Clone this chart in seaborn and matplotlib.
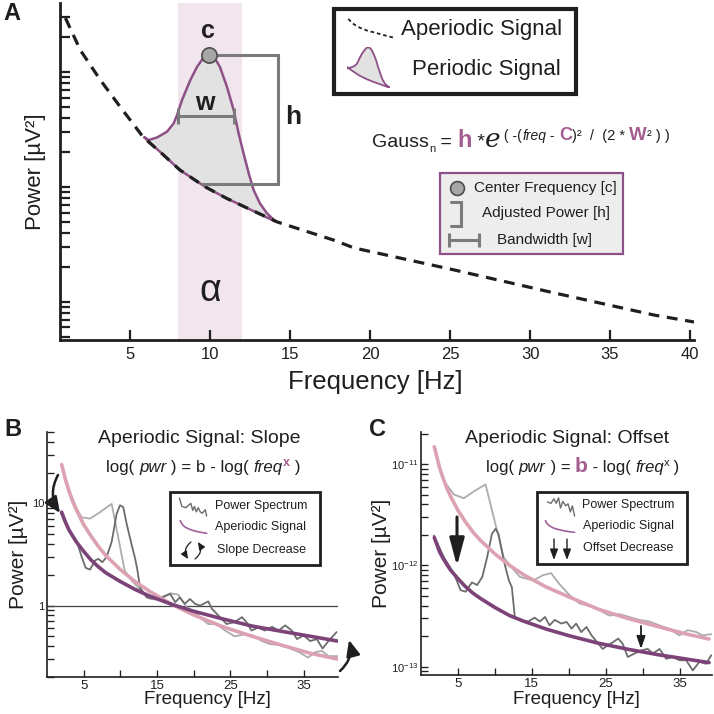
import matplotlib
matplotlib.use("Agg")
import matplotlib.pyplot as plt
from matplotlib.patches import Rectangle, FancyArrowPatch
from matplotlib.lines import Line2D
from matplotlib.ticker import FixedLocator, NullFormatter
import numpy as np
import seaborn as sns

sns.set_style("ticks")
plt.rcParams['font.family'] = ['Liberation Sans', 'DejaVu Sans']
plt.rcParams['mathtext.fontset'] = 'custom'
plt.rcParams['mathtext.rm'] = 'Liberation Sans'

# ---------------- data ----------------
# Panel A: aperiodic 1/f component (dashed)
ap_freq = [0.94, 1.875, 3.125, 4.375, 5.8, 7.0, 8.1, 9.7, 11.0, 12.3, 14.2,
           17.7, 19.0, 25.25, 31.5, 37.75, 40.25]
ap_power = [295, 155, 85.2, 49.6, 27.2, 19.4, 14.06, 10.0, 8.0, 6.57, 4.96,
            3.46, 2.95, 1.90, 1.20, 0.77, 0.67]

# Panel A: periodic (alpha) peak riding on the aperiodic component
peak_freq = [5.83, 6.14, 6.67, 7.29, 7.71, 7.92, 8.23, 8.75, 9.17, 9.58, 9.9,
             10.3, 10.6, 11.04, 11.46, 11.77, 12.08, 12.4, 12.71, 13.1, 13.54, 14.1]
peak_power = [27.4, 25.6, 27.0, 30.3, 35.8, 42.3, 57.1, 85.2, 111, 134, 141,
              131, 111, 74.5, 46.7, 29.3, 19.6, 13.2, 9.42, 7.22, 5.91, 4.99]

alpha_band = (8, 12)
bw_edges = (8.0, 11.5)      # bandwidth bracket [w]
bw_level = 41.4
h_bracket_freq = 14.25      # adjusted power bracket [h]
h_base_freq = 9.5
h_base_power = 10.6

# Panel B: slope change
b_fit_freq = [2, 2.5, 3, 3.5, 4, 5, 6, 7, 8, 10, 12, 14, 17, 20, 24, 28, 32, 36, 39.6]
b_fit_steep = [24, 17.3, 13.2, 10.5, 8.7, 6.2, 4.8, 3.8, 3.1, 2.25, 1.72, 1.38,
               1.03, 0.81, 0.62, 0.50, 0.41, 0.34, 0.30]
b_fit_flat = [8.2, 6.6, 5.5, 4.8, 4.2, 3.4, 2.8, 2.4, 2.1, 1.72, 1.44, 1.24,
              1.03, 0.88, 0.74, 0.63, 0.56, 0.50, 0.45]
b_spec1_freq = [2.0, 2.7, 3.4, 4.05, 4.73, 5.87, 7.23, 8.82, 10.6, 11.55, 12.46,
                14.05, 15.4, 16.8, 17.9, 19.1, 20.2, 21.1, 22.0, 23.1, 24.3, 25.6,
                26.8, 28.1, 29.3, 30.4, 31.8, 33.2, 34.4, 35.6, 36.6, 37.5, 38.4, 39.7]
b_spec1_power = [24, 16, 11.5, 8.9, 7.3, 7.1, 8.2, 9.9, 2.2, 1.76, 1.5,
                 1.16, 1.14, 1.32, 1.28, 0.96, 0.86, 0.74, 0.66, 0.66, 0.57, 0.50,
                 0.52, 0.51, 0.45, 0.42, 0.41, 0.38, 0.35, 0.31, 0.35, 0.36, 0.32, 0.32]
b_spec2_freq = [1.9, 2.9, 4.05, 4.73, 5.28, 5.87, 6.55, 7.0, 7.55, 8.14, 8.82, 9.5,
                9.96, 10.4, 10.87, 11.64, 12.0, 12.3, 12.7, 13.6, 15.0, 16.8, 17.5,
                18.1, 18.8, 19.5, 20.2, 20.9, 22.0, 22.5, 23.6, 24.5, 25.6, 26.6,
                27.2, 27.9, 28.8, 29.7, 30.7, 31.6, 32.5, 33.4, 34.1, 35.0, 35.9,
                36.8, 37.6, 38.4, 39.5]
b_spec2_power = [8.0, 5.6, 4.3, 3.0, 2.34, 2.25, 2.76, 2.87, 2.66, 3.0, 4.2, 7.9,
                 9.6, 9.2, 6.3, 3.7, 2.94, 2.29, 1.5, 1.2, 1.16, 1.3, 1.08,
                 1.2, 1.04, 1.16, 1.04, 1.0, 1.1, 0.93, 0.77, 0.66, 0.69, 0.77,
                 0.69, 0.57, 0.61, 0.57, 0.62, 0.57, 0.64, 0.57, 0.47, 0.51, 0.45,
                 0.47, 0.38, 0.45, 0.55]

# Panel C: offset change
c_fit_freq = [1.8, 2.5, 3, 3.5, 4, 5, 6, 7, 8, 10, 12, 14, 17, 20, 24, 28, 32, 36, 39]
c_fit_high = [1.48e-11, 9.3e-12, 7.2e-12, 5.8e-12, 4.8e-12, 3.5e-12, 2.7e-12,
              2.15e-12, 1.78e-12, 1.30e-12, 1.00e-12, 8.0e-13, 6.1e-13, 4.9e-13,
              3.7e-13, 3.0e-13, 2.5e-13, 2.1e-13, 1.88e-13]
c_fit_low = [1.88e-12, 1.37e-12, 1.17e-12, 1.02e-12, 9.0e-13, 7.4e-13, 6.2e-13,
             5.35e-13, 4.75e-13, 3.85e-13, 3.2e-13, 2.8e-13, 2.35e-13, 2.03e-13,
             1.71e-13, 1.49e-13, 1.32e-13, 1.19e-13, 1.10e-13]
c_spec1_freq = [1.8, 2.5, 3.3, 4.46, 5.8, 7.2, 8.74, 11.2, 12.3, 13.4, 15.2, 16.5,
                17.6, 18.7, 20.1, 21.5, 22.8, 24.2, 25.5, 26.9, 28.2, 29.6, 30.9,
                32.3, 33.6, 35.0, 36.1, 37.3, 38.1, 39.3]
c_spec1_power = [1.48e-11, 9.3e-12, 6.5e-12, 5.0e-12, 4.6e-12, 5.4e-12, 6.3e-12,
                 1.2e-12, 9.5e-13, 7.7e-13, 7.1e-13, 8.0e-13, 8.4e-13, 6.6e-13,
                 5.1e-13, 4.2e-13, 4.0e-13, 3.6e-13, 3.2e-13, 3.3e-13, 3.1e-13,
                 2.9e-13, 2.8e-13, 2.56e-13, 2.37e-13, 2.04e-13, 2.3e-13, 2.2e-13,
                 2.04e-13, 2.1e-13]
c_spec2_freq = [1.76, 3.1, 4.46, 5.36, 6.04, 6.9, 7.6, 8.3, 8.96, 9.6, 10.1, 10.5,
                11.2, 11.9, 12.3, 12.7, 13.4, 14.5, 15.4, 16.1, 16.8, 17.4, 18.1,
                19.0, 19.7, 20.4, 21.0, 21.7, 22.4, 23.1, 24.0, 24.6, 25.3, 26.0,
                26.7, 27.3, 28.0, 28.9, 29.8, 30.7, 31.4, 32.3, 33.2, 34.1, 35.0,
                35.9, 36.8, 37.7, 38.6, 39.3]
c_spec2_power = [1.97e-12, 1.2e-12, 8.3e-13, 5.7e-13, 5.5e-13, 6.8e-13, 6.4e-13,
                 7.7e-13, 1.21e-12, 2.04e-12, 2.3e-12, 2.04e-12, 1.12e-12, 7.1e-13,
                 6.1e-13, 3.1e-13, 2.87e-13, 2.8e-13, 3.05e-13, 2.8e-13, 3.1e-13,
                 2.56e-13, 2.9e-13, 2.67e-13, 2.77e-13, 2.38e-13, 2.67e-13, 2.2e-13,
                 2.47e-13, 2.04e-13, 1.69e-13, 1.5e-13, 1.63e-13, 1.75e-13, 1.9e-13,
                 1.69e-13, 1.25e-13, 1.35e-13, 1.45e-13, 1.5e-13, 1.35e-13, 1.5e-13,
                 1.2e-13, 1.25e-13, 1.16e-13, 1.16e-13, 9.2e-14, 1.12e-13, 1.07e-13,
                 1.3e-13]

# ---------------- style ----------------
INK = '#1f1f1f'
PINK = '#dda2b2'
PURPLE = '#7c4378'
MAUVE = '#a45d90'
LIGHT = '#acacac'
DARK = '#6c6c6c'
BAND = '#f2e6ee'
FILL = '#e2e2e2'
OUTLINE = '#8d5188'
BRACKET = '#7b7b7b'

W = H = 714
fig = plt.figure(figsize=(W / 100, H / 100), dpi=100)


def fx(x):
    return x / W


def fy(y):
    return 1 - y / H


def ftext(x, y, s, **kw):
    kw.setdefault('color', INK)
    return fig.text(fx(x), fy(y), s, **kw)


def chain(x, y, pieces):
    """Lay text pieces one after another on a common baseline (pixel coords)."""
    r = fig.canvas.get_renderer()
    for s, kw in pieces:
        kw = dict(kw)
        dy = kw.pop('dy', 0)
        kw.setdefault('color', INK)
        t = fig.text(fx(x), fy(y - dy), s, va='baseline', ha='left', **kw)
        x += t.get_window_extent(r).width


def box(x0, y0, x1, y1, **kw):
    rect = Rectangle((fx(x0), fy(y1)), (x1 - x0) / W, (y1 - y0) / H,
                     transform=fig.transFigure, zorder=1, **kw)
    fig.add_artist(rect)


def icon_axes(x0, y0, x1, y1, ylog=True):
    ia = fig.add_axes([fx(x0), fy(y1), (x1 - x0) / W, (y1 - y0) / H])
    ia.set_axis_off()
    ia.set_zorder(5)
    if ylog:
        ia.set_yscale('log')
    return ia


def farrow(p0, p1, rad=0.0, hl=0.6, hw=0.3, scale=10, lw=1.0):
    a = FancyArrowPatch((fx(p0[0]), fy(p0[1])), (fx(p1[0]), fy(p1[1])),
                        transform=fig.transFigure,
                        connectionstyle=f'arc3,rad={rad}',
                        arrowstyle=f'-|>,head_length={hl},head_width={hw}',
                        mutation_scale=scale, lw=lw, color=INK,
                        shrinkA=0, shrinkB=0, zorder=6)
    fig.add_artist(a)


def fline(xs, ys, **kw):
    fig.add_artist(Line2D([fx(v) for v in xs], [fy(v) for v in ys],
                          transform=fig.transFigure, zorder=6, **kw))


def style_axes(ax, lw, tick_len, fs):
    sns.despine(ax=ax)
    for s in ('left', 'bottom'):
        ax.spines[s].set_linewidth(lw)
        ax.spines[s].set_color(INK)
    ax.tick_params(which='both', direction='in', length=tick_len, width=lw * 0.8,
                   color=INK, labelsize=fs, labelcolor=INK)
    ax.set_facecolor('none')


# ---------------- panel A ----------------
axA = fig.add_axes([fx(60), fy(340), 634 / W, 337 / H])
axA.set_yscale('log')
axA.axvspan(*alpha_band, color=BAND, lw=0, zorder=0)

lo, hi = peak_freq[0], peak_freq[-1]
base_f = [f for f in ap_freq if lo < f < hi][::-1]
base_p = [p for f, p in zip(ap_freq, ap_power) if lo < f < hi][::-1]
axA.fill(peak_freq + base_f, peak_power + base_p, facecolor=FILL,
         edgecolor=OUTLINE, lw=1.8, zorder=2)
axA.plot(ap_freq, ap_power, color=INK, lw=2.3, ls=(0, (3.4, 2.4)), zorder=3)

i_c = int(np.argmax(peak_power))
c_f, c_p = peak_freq[i_c], peak_power[i_c]
axA.plot([c_f, h_bracket_freq, h_bracket_freq, h_base_freq],
         [c_p, c_p, h_base_power, h_base_power], color=BRACKET, lw=2.2, zorder=4,
         solid_joinstyle='miter')
axA.plot(list(bw_edges), [bw_level, bw_level], color=BRACKET, lw=2.2,
         marker='|', ms=11, mew=2.2, zorder=4)
axA.plot([c_f], [c_p], marker='o', ms=11, mfc='#a6a6a6', mec='#4d4d4d',
         mew=1.2, zorder=5)

axA.set_xlim(0.6, 40.25)
axA.set_ylim(0.467, 399)
axA.set_xticks(range(5, 45, 5))
axA.yaxis.set_major_formatter(NullFormatter())
axA.yaxis.set_minor_formatter(NullFormatter())
style_axes(axA, 2.0, 7, 12)
axA.tick_params(axis='x', pad=5)
axA.set_xlabel('Frequency [Hz]', fontsize=18.5, color=INK)
axA.xaxis.set_label_coords(0.497, -0.09)
axA.set_ylabel('Power [\u00b5V\u00b2]', fontsize=16, color=INK)
axA.yaxis.set_label_coords(-0.022, 0.5)

ftext(208, 31, 'c', fontsize=18, weight='bold', ha='center', va='center')
ftext(205, 103, 'w', fontsize=18, weight='bold', ha='center', va='center')
ftext(293, 117, 'h', fontsize=19, weight='bold', ha='center', va='center')
ftext(210, 291, '\u03b1', fontsize=27, ha='center', va='center')
ftext(12, 13, 'A', fontsize=17, weight='bold', ha='center', va='center')

# legend A
box(334, 9, 576, 94, facecolor='white', edgecolor=INK, lw=3)
ia = icon_axes(346, 18, 398, 39)
ia.plot(ap_freq[4:], ap_power[4:], color=INK, lw=1.3, ls=(0, (2, 1.6)))
ia = icon_axes(347, 47, 390, 88)
ia.fill(peak_freq + base_f, peak_power + base_p, facecolor=FILL,
        edgecolor=OUTLINE, lw=1.3)
ia.set_xlim(lo, hi)
ia.set_ylim(4.9, 145)
ftext(401, 30, 'Aperiodic Signal', fontsize=16, va='center')
ftext(412, 70, 'Periodic Signal', fontsize=16, va='center')

# Gaussian formula
sup = 7
chain(372, 147, [
    ('Gauss', dict(fontsize=14)),
    ('n', dict(fontsize=8, dy=-5)),
    (' = ', dict(fontsize=14)),
    ('h', dict(fontsize=17, weight='bold', color=MAUVE)),
    (' *', dict(fontsize=14)),
    ('e', dict(fontsize=19, style='italic', family='DejaVu Serif')),
    (' ( -(', dict(fontsize=10, dy=sup)),
    ('freq', dict(fontsize=10, style='italic', dy=sup)),
    (' - ', dict(fontsize=10, dy=sup)),
    ('C', dict(fontsize=13, weight='bold', color=MAUVE, dy=sup)),
    (')\u00b2  /  (2 * ', dict(fontsize=10.5, dy=sup)),
    ('W', dict(fontsize=13.5, weight='bold', color=MAUVE, dy=sup)),
    ('\u00b2 ) )', dict(fontsize=10.5, dy=sup)),
])

box(440, 173, 623, 254, facecolor='#ededed', edgecolor=OUTLINE, lw=1.6)
fline([457], [188], marker='o', ms=10, mfc='#a6a6a6', mec='#4d4d4d', mew=1.2)
ftext(474, 188, 'Center Frequency [c]', fontsize=11, va='center')
fline([451, 461, 461, 451], [202, 202, 226, 226], color=BRACKET, lw=2.2,
      solid_joinstyle='miter')
ftext(482, 213, 'Adjusted Power [h]', fontsize=11, va='center')
fline([449, 479], [240, 240], color=BRACKET, lw=2.2, marker='|', ms=10, mew=2.2)
ftext(497, 240, 'Bandwidth [w]', fontsize=11, va='center')


# ---------------- panels B & C ----------------
def spectrum_panel(ax, fit_f, fit_a, fit_b, s1f, s1p, s2f, s2p, xmax, ylim,
                   xlab_pos, ylab_x):
    ax.set_yscale('log')
    sns.lineplot(x=s1f, y=s1p, ax=ax, color=LIGHT, lw=1.3, sort=False,
                 estimator=None, zorder=2)
    sns.lineplot(x=s2f, y=s2p, ax=ax, color=DARK, lw=1.3, sort=False,
                 estimator=None, zorder=2)
    sns.lineplot(x=fit_f, y=fit_a, ax=ax, color=PINK, lw=2.6, sort=False,
                 estimator=None, zorder=3)
    sns.lineplot(x=fit_f, y=fit_b, ax=ax, color=PURPLE, lw=2.6, sort=False,
                 estimator=None, zorder=3)
    ax.set_xlim(0, xmax)
    ax.set_ylim(*ylim)
    ax.set_xticks(range(5, 40, 5))
    ax.set_xticklabels(['5', '', '15', '', '25', '', '35'])
    ax.yaxis.set_minor_formatter(NullFormatter())
    style_axes(ax, 1.2, 5, 9.5)
    ax.tick_params(axis='y', labelsize=8, pad=2)
    ax.tick_params(axis='x', pad=2)
    ax.set_xlabel('Frequency [Hz]', fontsize=13.5, color=INK)
    ax.xaxis.set_label_coords(*xlab_pos)
    ax.set_ylabel('Power [\u00b5V\u00b2]', fontsize=15, color=INK)
    ax.yaxis.set_label_coords(ylab_x, 0.5)


axB = fig.add_axes([fx(47), fy(677), 291 / W, 245 / H])
spectrum_panel(axB, b_fit_freq, b_fit_steep, b_fit_flat, b_spec1_freq,
               b_spec1_power, b_spec2_freq, b_spec2_power, 39.7, (0.2, 50),
               (0.55, -0.058), -0.064)
axB.axhline(1, color='#444444', lw=0.9, zorder=1)
axB.yaxis.set_major_locator(FixedLocator([1, 10]))
axB.set_yticklabels(['1', '10'])

axC = fig.add_axes([fx(421), fy(675), 291 / W, 243 / H])
spectrum_panel(axC, c_fit_freq, c_fit_high, c_fit_low, c_spec1_freq,
               c_spec1_power, c_spec2_freq, c_spec2_power, 39.4, (8.3e-14, 2.07e-11),
               (0.535, -0.067), -0.104)

ftext(13, 429, 'B', fontsize=17, weight='bold', ha='center', va='center')
ftext(377, 429, 'C', fontsize=17, weight='bold', ha='center', va='center')

ftext(199, 438, 'Aperiodic Signal: Slope', fontsize=14, ha='center', va='center')
chain(106, 472, [
    ('log( ', dict(fontsize=12.2)),
    ('pwr', dict(fontsize=12.2, style='italic')),
    (' ) = b - log( ', dict(fontsize=12.2)),
    ('freq', dict(fontsize=12.2, style='italic')),
    ('x', dict(fontsize=9, weight='bold', color=MAUVE, dy=6)),
    (' )', dict(fontsize=12.2)),
])
ftext(567, 438, 'Aperiodic Signal: Offset', fontsize=14, ha='center', va='center')
chain(486, 472, [
    ('log( ', dict(fontsize=12)),
    ('pwr', dict(fontsize=12, style='italic')),
    (' ) = ', dict(fontsize=12)),
    ('b', dict(fontsize=15, weight='bold', color=MAUVE)),
    (' - log( ', dict(fontsize=12)),
    ('freq', dict(fontsize=12, style='italic')),
    ('x', dict(fontsize=8, dy=6)),
    (' )', dict(fontsize=12)),
])

# legend B
box(170, 492, 320, 565, facecolor='white', edgecolor=INK, lw=2)
ia = icon_axes(178, 497, 208, 517)
ia.plot(b_spec2_freq[18:30], b_spec2_power[18:30], color=DARK, lw=1)
ia = icon_axes(179, 520, 208, 534)
ia.plot(b_fit_freq, b_fit_flat, color='#a0609a', lw=1.2)
farrow((191, 542), (188, 559), rad=0.45, hl=0.55, hw=0.25, scale=8, lw=0.9)
farrow((195, 559), (198, 542), rad=0.45, hl=0.55, hw=0.25, scale=8, lw=0.9)
ftext(215, 506, 'Power Spectrum', fontsize=9, va='center')
ftext(215, 527, 'Aperiodic Signal', fontsize=9, va='center')
ftext(217, 550, 'Slope Decrease', fontsize=9, va='center')

# legend C
box(537, 492, 687, 564, facecolor='white', edgecolor=INK, lw=2)
ia = icon_axes(546, 497, 576, 517)
ia.plot(c_spec2_freq[16:28], c_spec2_power[16:28], color=DARK, lw=1)
ia = icon_axes(544, 520, 576, 533)
ia.plot(c_fit_freq, c_fit_low, color='#a0609a', lw=1.2)
for xa in (554, 567):
    farrow((xa, 539), (xa, 560), hl=0.8, hw=0.3, scale=8, lw=1.0)
ftext(582, 505, 'Power Spectrum', fontsize=9, va='center')
ftext(583, 526, 'Aperiodic Signal', fontsize=9, va='center')
ftext(583, 548, 'Offset Decrease', fontsize=9, va='center')

# change arrows
farrow((58, 475), (60, 513), rad=0.3, hl=0.8, hw=0.35, scale=12, lw=1.8)
farrow((340, 671), (349, 640), rad=0.3, hl=0.8, hw=0.35, scale=12, lw=1.8)
farrow((457, 517), (457, 566), hl=1.2, hw=0.32, scale=14, lw=2.2)
farrow((641, 626), (641, 649), hl=0.75, hw=0.26, scale=10, lw=1.3)

fig.savefig('out.png', dpi=100, facecolor='white')
